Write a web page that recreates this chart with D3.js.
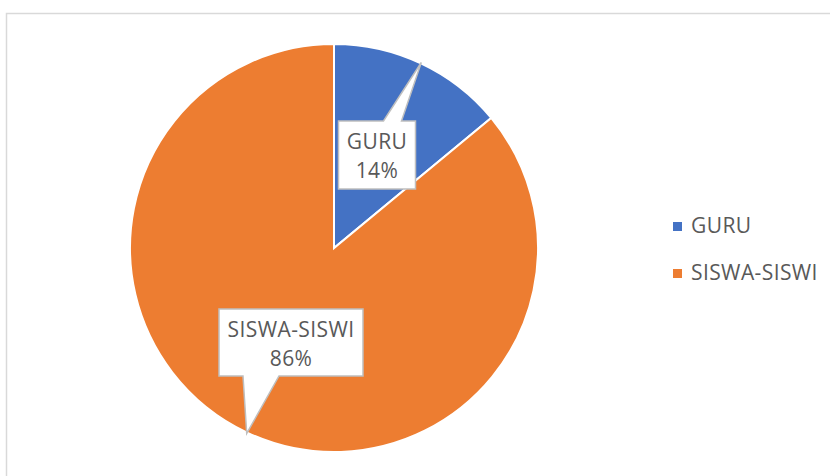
<!DOCTYPE html>
<html><head><meta charset="utf-8">
<script src="https://cdn.jsdelivr.net/npm/d3@7"></script>
<style>html,body{margin:0;padding:0;background:#fff;}svg{display:block;}</style>
</head><body>
<svg id="chart" width="830" height="476"></svg>
<script>
const categories = ["GURU", "SISWA-SISWI"];
const values = [14, 86];
const colors = ["#4472C4", "#ED7D31"];
const pctLabels = ["14%", "86%"];

const svg = d3.select("#chart");
const font = "'Open Sans', sans-serif";

// frame
svg.append("rect").attr("x", 6.5).attr("y", 13.5).attr("width", 900).attr("height", 600)
  .attr("fill", "none").attr("stroke", "#d9d9d9").attr("stroke-width", 1.5);

const cx = 334, cy = 248, R = 204;
const g = svg.append("g").attr("transform", `translate(${cx},${cy})`);
const pie = d3.pie().sort(null).value(d => d)(values);
const arc = d3.arc().innerRadius(0).outerRadius(R);

g.selectAll("path.slice").data(pie).join("path")
  .attr("class", "slice")
  .attr("d", arc)
  .attr("fill", (d, i) => colors[i])
  .attr("stroke", "#fff").attr("stroke-width", 2);

// callout layout (box center offset from pie center, box size, pointer base offsets)
const callouts = [
  {dx: 43, dy: -93, w: 77, h: 68, side: "top", b0: 45, b1: 63},
  {dx: -43, dy: 94.5, w: 144, h: 67, side: "bottom", b0: 24, b1: 60}
];

pie.forEach((d, i) => {
  const c = callouts[i];
  const mid = (d.startAngle + d.endAngle) / 2;
  const tx = Math.sin(mid) * (R + 1), ty = -Math.cos(mid) * (R + 1);
  const x0 = c.dx - c.w / 2, y0 = c.dy - c.h / 2, x1 = x0 + c.w, y1 = y0 + c.h;
  let p;
  if (c.side === "top") {
    p = `M${x0},${y0} L${x0 + c.b0},${y0} L${tx},${ty} L${x0 + c.b1},${y0} L${x1},${y0} L${x1},${y1} L${x0},${y1} Z`;
  } else {
    p = `M${x0},${y0} L${x1},${y0} L${x1},${y1} L${x0 + c.b1},${y1} L${tx},${ty} L${x0 + c.b0},${y1} L${x0},${y1} Z`;
  }
  g.append("path").attr("d", p).attr("fill", "#fff")
    .attr("stroke", "#bfbfbf").attr("stroke-width", 1.5).attr("stroke-linejoin", "miter");
  const t = g.append("text").attr("text-anchor", "middle")
    .attr("font-family", font).attr("font-size", 21).attr("letter-spacing", 0.4).attr("fill", "#595959");
  t.append("tspan").attr("x", c.dx).attr("y", c.dy - 6).text(categories[i]);
  t.append("tspan").attr("x", c.dx).attr("y", c.dy + 23).text(pctLabels[i]);
});

// legend
const lg = svg.append("g").attr("transform", "translate(673,222)");
categories.forEach((c, i) => {
  const row = lg.append("g").attr("transform", `translate(0,${i * 47})`);
  row.append("rect").attr("width", 9).attr("height", 9).attr("fill", colors[i]);
  row.append("text").attr("x", 18).attr("y", 11).attr("font-family", font)
    .attr("font-size", 21).attr("letter-spacing", 0.4).attr("fill", "#595959").text(c);
});
</script>
</body></html>
